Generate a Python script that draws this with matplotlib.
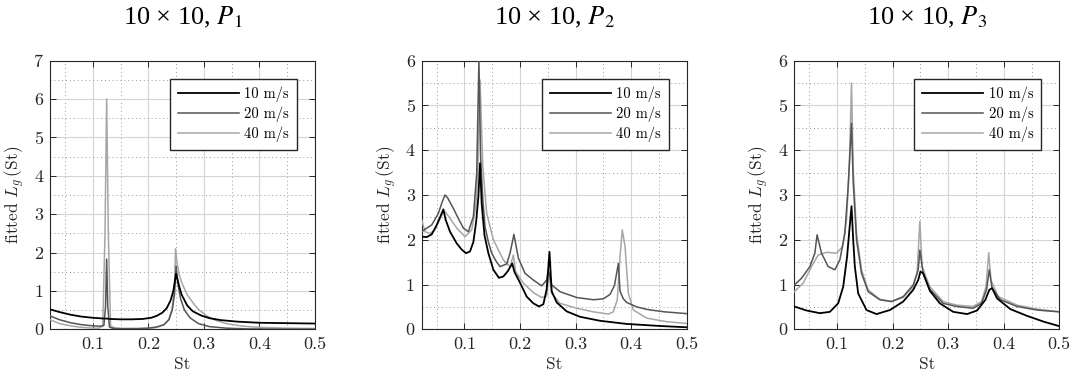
"""
fitted L_g(St) for the 10x10 case, probes P1..P3
"""
import matplotlib
matplotlib.use('Agg')
import matplotlib.pyplot as plt
from matplotlib.ticker import MultipleLocator

plt.rcParams['font.family'] = ['cmr10']
plt.rcParams['mathtext.fontset'] = 'cm'
plt.rcParams['axes.formatter.use_mathtext'] = True

speeds = ['10 m/s', '20 m/s', '40 m/s']
titles = ['10 × 10, $P_1$', '10 × 10, $P_2$', '10 × 10, $P_3$']
ymax = [7, 6, 6]

# ---------- P1 ----------
p1_st_10 = [0.023, 0.04, 0.06, 0.08, 0.1, 0.12, 0.125, 0.13, 0.15, 0.17, 0.19, 0.205, 0.215, 0.225,
            0.233, 0.24, 0.245, 0.25, 0.255, 0.26, 0.27, 0.28, 0.295, 0.31, 0.33, 0.36, 0.4, 0.45, 0.5]
p1_lg_10 = [0.52, 0.45, 0.38, 0.33, 0.30, 0.28, 0.28, 0.27, 0.26, 0.26, 0.27, 0.30, 0.35, 0.43,
            0.55, 0.75, 1.0, 1.45, 1.15, 0.9, 0.62, 0.47, 0.36, 0.29, 0.24, 0.2, 0.17, 0.16, 0.15]
p1_st_20 = [0.023, 0.04, 0.06, 0.08, 0.1, 0.115, 0.12, 0.123, 0.125, 0.127, 0.13, 0.135, 0.15, 0.18,
            0.2, 0.215, 0.228, 0.237, 0.243, 0.247, 0.25, 0.253, 0.258, 0.265, 0.275, 0.29, 0.31,
            0.34, 0.38, 0.45, 0.5]
p1_lg_20 = [0.35, 0.25, 0.17, 0.12, 0.09, 0.08, 0.1, 0.6, 1.83, 0.6, 0.06, 0.03, 0.02, 0.02,
            0.03, 0.06, 0.12, 0.25, 0.5, 0.9, 1.65, 1.2, 0.8, 0.5, 0.3, 0.15, 0.07,
            0.03, 0.01, 0.005, 0.003]
p1_st_40 = [0.023, 0.04, 0.06, 0.08, 0.1, 0.112, 0.118, 0.122, 0.125, 0.128, 0.132, 0.14, 0.17, 0.2,
            0.215, 0.228, 0.237, 0.243, 0.247, 0.249, 0.252, 0.256, 0.262, 0.27, 0.28, 0.29, 0.305,
            0.32, 0.34, 0.37, 0.4, 0.45, 0.5]
p1_lg_40 = [0.25, 0.15, 0.09, 0.05, 0.03, 0.03, 0.1, 2.5, 6.0, 2.5, 0.1, 0.02, 0.01, 0.02,
            0.05, 0.12, 0.25, 0.55, 1.1, 2.1, 1.7, 1.4, 1.15, 0.9, 0.7, 0.52, 0.35,
            0.24, 0.15, 0.08, 0.05, 0.03, 0.02]

# ---------- P2 ----------
p2_st_10 = [0.023, 0.032, 0.041, 0.05, 0.056, 0.062, 0.066, 0.074, 0.086, 0.095, 0.103, 0.11, 0.116,
            0.121, 0.125, 0.128, 0.131, 0.136, 0.143, 0.152, 0.162, 0.17, 0.178, 0.186, 0.19, 0.2,
            0.212, 0.224, 0.234, 0.242, 0.248, 0.253, 0.257, 0.266, 0.284, 0.308, 0.344, 0.392,
            0.452, 0.5]
p2_lg_10 = [2.07, 2.06, 2.12, 2.33, 2.5, 2.68, 2.45, 2.18, 1.92, 1.78, 1.70, 1.74, 1.95,
            2.4, 2.96, 3.71, 2.8, 2.1, 1.7, 1.33, 1.15, 1.18, 1.3, 1.47, 1.28, 1.04,
            0.73, 0.58, 0.51, 0.56, 0.9, 1.73, 0.85, 0.6, 0.4, 0.28, 0.19, 0.12,
            0.074, 0.045]
p2_st_20 = [0.023, 0.032, 0.041, 0.053, 0.06, 0.065, 0.07, 0.08, 0.09, 0.098, 0.107, 0.116, 0.122,
            0.126, 0.129, 0.133, 0.137, 0.143, 0.149, 0.157, 0.164, 0.176, 0.182, 0.189, 0.197,
            0.209, 0.224, 0.239, 0.248, 0.251, 0.257, 0.272, 0.302, 0.332, 0.35, 0.362, 0.37,
            0.377, 0.38, 0.386, 0.392, 0.41, 0.43, 0.46, 0.5]
p2_lg_20 = [2.18, 2.26, 2.33, 2.59, 2.85, 3.0, 2.93, 2.7, 2.45, 2.26, 2.18, 2.52, 3.48,
            6.0, 3.86, 2.9, 2.29, 1.95, 1.7, 1.52, 1.4, 1.46, 1.7, 2.12, 1.59,
            1.25, 1.1, 0.97, 1.1, 1.33, 0.99, 0.84, 0.71, 0.66, 0.68, 0.78, 0.98,
            1.47, 0.85, 0.68, 0.6, 0.5, 0.44, 0.39, 0.35]
p2_st_40 = [0.023, 0.029, 0.038, 0.047, 0.055, 0.061, 0.065, 0.074, 0.086, 0.101, 0.113, 0.12, 0.124,
            0.128, 0.133, 0.14, 0.152, 0.17, 0.182, 0.188, 0.192, 0.206, 0.224, 0.239, 0.248, 0.252,
            0.257, 0.272, 0.302, 0.332, 0.359, 0.368, 0.375, 0.38, 0.384, 0.389, 0.395, 0.404,
            0.428, 0.464, 0.5]
p2_lg_40 = [2.44, 2.18, 2.14, 2.22, 2.45, 2.6, 2.63, 2.48, 2.26, 2.07, 2.22, 2.7, 3.5,
            5.57, 3.63, 2.59, 2.0, 1.55, 1.4, 1.66, 1.29, 1.03, 0.82, 0.71, 0.74, 1.25,
            0.8, 0.58, 0.47, 0.39, 0.34, 0.39, 0.66, 1.62, 2.22, 1.85, 0.8, 0.43,
            0.25, 0.17, 0.13]

# ---------- P3 ----------
p3_st_10 = [0.023, 0.045, 0.069, 0.087, 0.102, 0.111, 0.118, 0.122, 0.126, 0.129, 0.132, 0.138, 0.153,
            0.171, 0.195, 0.219, 0.237, 0.246, 0.25, 0.255, 0.267, 0.285, 0.309, 0.334, 0.352, 0.367,
            0.374, 0.379, 0.388, 0.412, 0.442, 0.472, 0.5]
p3_lg_10 = [0.51, 0.42, 0.36, 0.39, 0.58, 0.95, 1.62, 2.2, 2.75, 2.0, 1.4, 0.8, 0.43,
            0.34, 0.43, 0.62, 0.88, 1.1, 1.29, 1.25, 0.86, 0.58, 0.39, 0.34, 0.42, 0.66,
            0.88, 0.92, 0.69, 0.45, 0.3, 0.17, 0.07]
p3_st_20 = [0.023, 0.036, 0.051, 0.06, 0.064, 0.072, 0.084, 0.096, 0.105, 0.114, 0.12, 0.126, 0.129,
            0.135, 0.144, 0.156, 0.177, 0.198, 0.219, 0.237, 0.246, 0.249, 0.255, 0.267, 0.291,
            0.315, 0.345, 0.36, 0.369, 0.374, 0.379, 0.394, 0.424, 0.46, 0.5]
p3_lg_20 = [0.99, 1.14, 1.4, 1.7, 2.11, 1.7, 1.4, 1.33, 1.55, 2.14, 3.2, 4.6, 3.3,
            2.0, 1.25, 0.84, 0.66, 0.62, 0.73, 0.99, 1.33, 1.77, 1.25, 0.89, 0.58,
            0.51, 0.47, 0.58, 0.88, 1.33, 0.92, 0.66, 0.51, 0.43, 0.39]
p3_st_40 = [0.023, 0.039, 0.054, 0.066, 0.081, 0.099, 0.11, 0.117, 0.122, 0.126, 0.129, 0.135, 0.144,
            0.156, 0.177, 0.198, 0.219, 0.237, 0.244, 0.249, 0.253, 0.267, 0.291, 0.315, 0.345, 0.36,
            0.368, 0.373, 0.377, 0.39, 0.424, 0.46, 0.5]
p3_lg_40 = [0.84, 1.03, 1.4, 1.66, 1.72, 1.7, 1.85, 2.44, 3.63, 5.5, 3.6, 2.14, 1.33,
            0.88, 0.67, 0.62, 0.71, 0.95, 1.25, 2.41, 1.4, 0.95, 0.62, 0.54, 0.51, 0.62,
            0.95, 1.71, 1.1, 0.73, 0.54, 0.45, 0.39]

panels = [
    [(p1_st_10, p1_lg_10), (p1_st_20, p1_lg_20), (p1_st_40, p1_lg_40)],
    [(p2_st_10, p2_lg_10), (p2_st_20, p2_lg_20), (p2_st_40, p2_lg_40)],
    [(p3_st_10, p3_lg_10), (p3_st_20, p3_lg_20), (p3_st_40, p3_lg_40)],
]
colors = ['#000000', '#555555', '#a6a6a6']
widths = [1.3, 1.1, 1.1]

W, H = 1069, 377
fig = plt.figure(figsize=(W / 100, H / 100), dpi=100)
lefts = [50, 421.7, 794.3]
ax_w, ax_h, ax_top = 265, 268.6, 60.7

for k in range(3):
    ax = fig.add_axes([lefts[k] / W, (H - ax_top - ax_h) / H, ax_w / W, ax_h / H])
    # 10 m/s drawn on top
    for j in [2, 1, 0]:
        st, lg = panels[k][j]
        ax.plot(st, lg, color=colors[j], lw=widths[j], label=speeds[j], zorder=3 + (2 - j))

    ax.set_xlim(0.023, 0.5)
    ax.set_ylim(0, ymax[k])
    ax.xaxis.set_major_locator(MultipleLocator(0.1))
    ax.xaxis.set_minor_locator(MultipleLocator(0.05))
    ax.yaxis.set_major_locator(MultipleLocator(1))
    ax.yaxis.set_minor_locator(MultipleLocator(0.5))
    ax.xaxis.set_major_formatter(plt.FuncFormatter(lambda v, p: f'{v:g}'))
    ax.yaxis.set_major_formatter(plt.FuncFormatter(lambda v, p: f'{v:g}'))

    ax.grid(True, which='major', color='#d4d4d4', lw=0.8, ls='-')
    ax.grid(True, which='minor', color='#9a9a9a', lw=0.7, ls=(0, (1, 3)))
    ax.set_axisbelow(True)

    ax.tick_params(which='major', direction='in', length=4, width=0.7, top=True, right=True,
                   labelsize=13, colors='#262626', pad=5)
    ax.tick_params(which='minor', length=0, top=True, right=True)
    for s in ax.spines.values():
        s.set_color('#262626')
        s.set_linewidth(0.8)

    ax.set_xlabel('St', fontsize=12.5, color='#262626', labelpad=4)
    ax.set_ylabel(r'fitted $L_g\,(\mathrm{St})$', fontsize=12.5, color='#262626', labelpad=5)

    handles, labels = ax.get_legend_handles_labels()
    leg = ax.legend(handles[::-1], labels[::-1], loc='upper right',
                    bbox_to_anchor=(1 - 18 / ax_w, 1 - 18 / ax_h), borderaxespad=0,
                    fontsize=10.5, handlelength=4.2, handletextpad=0.35, labelspacing=0.3,
                    borderpad=0.55, fancybox=False, framealpha=1)
    leg.get_frame().set_edgecolor('#262626')
    leg.get_frame().set_linewidth(1.0)

    ax.text(0.5, 1 + (ax_top - 17) / ax_h, titles[k], transform=ax.transAxes,
            ha='center', va='center', fontsize=19, family='Liberation Serif',
            math_fontfamily='stix')

fig.savefig('out.png', dpi=100)
